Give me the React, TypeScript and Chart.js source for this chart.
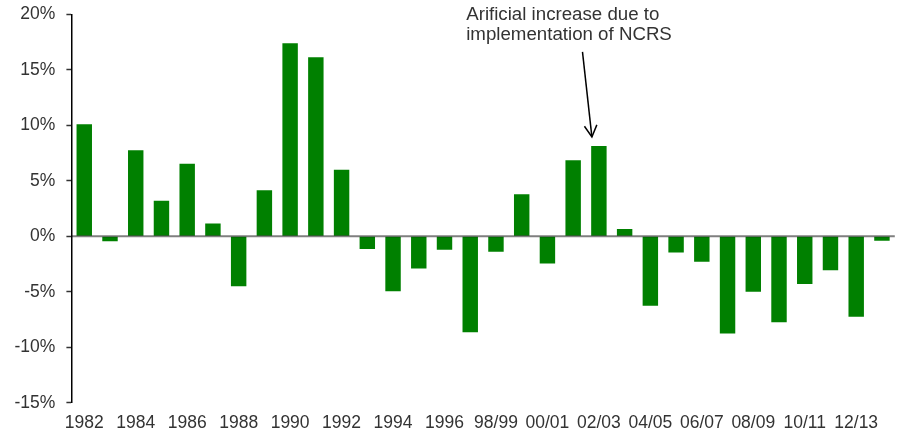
import React, { useEffect, useRef } from "react";
import { Chart, registerables } from "chart.js";

Chart.register(...registerables);

const categories: string[] = [
  "1982", "1983", "1984", "1985", "1986", "1987", "1988", "1989", "1990", "1991",
  "1992", "1993", "1994", "1995", "1996", "1997", "98/99", "99/00", "00/01", "01/02",
  "02/03", "03/04", "04/05", "05/06", "06/07", "07/08", "08/09", "09/10", "10/11", "11/12",
  "12/13", "13/14",
];

const changePct: number[] = [
  10.1, -0.45, 7.75, 3.2, 6.55, 1.15, -4.5, 4.15, 17.4, 16.15,
  6.0, -1.15, -4.95, -2.9, -1.2, -8.65, -1.4, 3.8, -2.45, 6.85,
  8.15, 0.65, -6.25, -1.45, -2.3, -8.75, -5.0, -7.75, -4.3, -3.05,
  -7.25, -0.4,
];

const yTicks: number[] = [-15, -10, -5, 0, 5, 10, 15, 20];

const annotationLines: string[] = ["Arificial increase due to", "implementation of NCRS"];
const annotationCategory = "02/03";

const FONT = "'Liberation Sans', Arial, sans-serif";

const zeroLinePlugin = {
  id: "zeroLine",
  afterDatasetsDraw(chart: any) {
    const { ctx, chartArea, scales } = chart;
    const y = scales.y.getPixelForValue(0);
    ctx.save();
    ctx.strokeStyle = "rgba(0,0,0,0.5)";
    ctx.lineWidth = 2;
    ctx.beginPath();
    ctx.moveTo(chartArea.left, y);
    ctx.lineTo(chartArea.right, y);
    ctx.stroke();
    ctx.restore();
  },
};

const annotationPlugin = {
  id: "ncrsAnnotation",
  afterDraw(chart: any) {
    const { ctx } = chart;
    const idx = categories.indexOf(annotationCategory);
    const el = chart.getDatasetMeta(0).data[idx];
    if (!el) return;
    const bx = el.x;
    const top = el.y;
    ctx.save();
    ctx.fillStyle = "#333";
    ctx.font = `18.7px ${FONT}`;
    ctx.textAlign = "left";
    ctx.textBaseline = "middle";
    ctx.fillText(annotationLines[0], bx - 132.7, top - 130.7);
    ctx.fillText(annotationLines[1], bx - 132.7, top - 110.7);

    const tipX = bx - 7;
    const tipY = top - 9;
    const tailX = bx - 16.4;
    const tailY = top - 94;
    ctx.strokeStyle = "#000";
    ctx.lineWidth = 1.5;
    ctx.beginPath();
    ctx.moveTo(tailX, tailY);
    ctx.lineTo(tipX, tipY);
    ctx.stroke();
    const ang = Math.atan2(tipY - tailY, tipX - tailX);
    const head = 13;
    const spread = 0.5;
    ctx.beginPath();
    ctx.moveTo(tipX - head * Math.cos(ang - spread), tipY - head * Math.sin(ang - spread));
    ctx.lineTo(tipX, tipY);
    ctx.lineTo(tipX - head * Math.cos(ang + spread), tipY - head * Math.sin(ang + spread));
    ctx.stroke();
    ctx.restore();
  },
};

export default function App() {
  const ref = useRef<HTMLCanvasElement | null>(null);

  useEffect(() => {
    if (!ref.current) return;
    const chart = new Chart(ref.current, {
      type: "bar",
      data: {
        labels: categories,
        datasets: [
          {
            data: changePct,
            backgroundColor: "#008000",
            borderWidth: 0,
            barPercentage: 1,
            categoryPercentage: 0.6,
          },
        ],
      },
      options: {
        animation: false,
        responsive: true,
        maintainAspectRatio: false,
        layout: { padding: { top: 14.5, right: 4.2, left: 0, bottom: 0 } },
        plugins: {
          legend: { display: false },
          tooltip: { enabled: false },
        },
        scales: {
          x: {
            grid: { display: false, drawTicks: false },
            border: { display: false },
            ticks: {
              autoSkip: false,
              maxRotation: 0,
              padding: 10,
              color: "#333",
              font: { family: FONT, size: 17.5 },
              callback: (_v: any, i: number) => (i % 2 === 0 ? categories[i] : ""),
            },
            afterFit: (s: any) => {
              s.height = 32.3;
              s.paddingLeft = 0;
              s.paddingRight = 0;
            },
          },
          y: {
            min: -15,
            max: 20,
            afterBuildTicks: (s: any) => {
              s.ticks = yTicks.map((v) => ({ value: v }));
            },
            grid: {
              drawOnChartArea: false,
              drawTicks: true,
              tickLength: 5,
              tickColor: "#333",
              tickWidth: 1.5,
            },
            border: { display: true, color: "#000", width: 1.5 },
            ticks: {
              padding: 11,
              color: "#333",
              font: { family: FONT, size: 17.5 },
              callback: (v: any) => `${v}%`,
            },
            afterFit: (s: any) => {
              s.width = 71.4;
              s.paddingTop = 0;
              s.paddingBottom = 0;
            },
          },
        },
      },
      plugins: [zeroLinePlugin, annotationPlugin],
    });
    return () => chart.destroy();
  }, []);

  return (
    <div style={{ position: "absolute", left: 0, top: 0, width: 899, height: 435, background: "#fff" }}>
      <canvas ref={ref} />
    </div>
  );
}
